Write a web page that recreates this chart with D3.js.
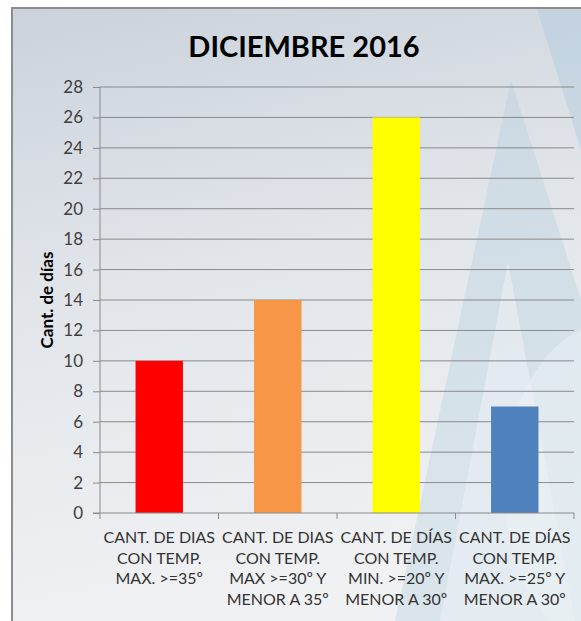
<!DOCTYPE html>
<html>
<head>
<meta charset="utf-8">
<script src="https://d3js.org/d3.v7.min.js"></script>
<style>
  body { margin: 0; background: #fff; }
  svg { display: block; font-family: Lato, "Open Sans", sans-serif; }
</style>
</head>
<body>
<svg id="chart" width="581" height="621"></svg>
<script>
// data
var categories = [
  ["CANT. DE DIAS", "CON TEMP.", "MAX. >=35º"],
  ["CANT. DE DIAS", "CON TEMP.", "MAX >=30º Y", "MENOR A 35º"],
  ["CANT. DE DÍAS", "CON TEMP.", "MIN. >=20º Y", "MENOR A 30º"],
  ["CANT. DE DÍAS", "CON TEMP.", "MAX. >=25º Y", "MENOR A 30º"]
];
var values = [10, 14, 26, 7];
var barColors = ["#ff0000", "#f79646", "#ffff00", "#4f81bd"];
var yTicks = d3.range(0, 29, 2);
var title = "DICIEMBRE 2016";
var yTitle = "Cant. de días";

var svg = d3.select("#chart");
var W = 581, H = 621;

// STEP 1: background frame + gradient
var defs = svg.append("defs");
var grad = defs.append("linearGradient")
    .attr("id", "bg").attr("x1", 0).attr("y1", 0).attr("x2", 0.2).attr("y2", 1);
grad.append("stop").attr("offset", "0%").attr("stop-color", "#cbd2db");
grad.append("stop").attr("offset", "45%").attr("stop-color", "#e1e5ea");
grad.append("stop").attr("offset", "100%").attr("stop-color", "#f0f1f3");

svg.append("rect")
    .attr("x", 12).attr("y", 8).attr("width", W).attr("height", H)
    .attr("fill", "url(#bg)")
    .attr("stroke", "#8c8c8c").attr("stroke-width", 2);

// watermark (light blue "A" / drop shape)
var wm = svg.append("g").attr("class", "watermark");
wm.append("path")
    .attr("d", "M511,80 L395,621 L581,621 L581,300 Z")
    .attr("fill", "#a9c9dc").attr("opacity", 0.3);
wm.append("path")
    .attr("d", "M537,9 L581,9 L581,150 Z")
    .attr("fill", "#a9c9dc").attr("opacity", 0.4);
wm.append("path")
    .attr("d", "M508,262 L440,621 L575,621 Z")
    .attr("fill", "#e8eef3").attr("opacity", 0.7);
wm.append("path")
    .attr("d", "M581,330 C535,350 500,420 505,500 C508,560 530,600 550,621 L581,621 Z")
    .attr("fill", "#eef3f7").attr("opacity", 0.45);

// STEP 2: scales
var margin = {left: 100, right: 7, top: 87, bottom: 108};
var x = d3.scaleBand()
    .domain(d3.range(values.length))
    .range([margin.left, W - margin.right])
    .padding(0);
var y = d3.scaleLinear()
    .domain([0, 28])
    .range([H - margin.bottom, margin.top]);

// gridlines
svg.append("g")
    .selectAll("line")
    .data(yTicks.filter(function(d) { return d > 0; }))
    .enter()
    .append("line")
        .attr("x1", margin.left).attr("x2", W - margin.right)
        .attr("y1", function(d) { return y(d); })
        .attr("y2", function(d) { return y(d); })
        .attr("stroke", "#8a8a8a").attr("stroke-width", 1);

// bars
var barW = x.bandwidth() * 0.4;
svg.append("g")
    .selectAll("rect")
    .data(values)
    .enter()
    .append("rect")
        .attr("x", function(d, i) { return x(i) + (x.bandwidth() - barW) / 2; })
        .attr("y", function(d) { return y(d); })
        .attr("width", barW)
        .attr("height", function(d) { return y(0) - y(d); })
        .attr("fill", function(d, i) { return barColors[i]; });

// y axis
var yAxis = svg.append("g")
    .attr("transform", "translate(" + margin.left + ",0)")
    .call(d3.axisLeft(y).tickValues(yTicks).tickSize(7).tickPadding(10));
yAxis.select(".domain").attr("stroke", "#8a8a8a").attr("d", "M0," + y(28) + "V" + y(0));
yAxis.selectAll(".tick line").attr("stroke", "#8a8a8a");
yAxis.selectAll("text")
    .attr("fill", "#404040")
    .style("font-size", "17px")
    .style("font-family", "Lato, sans-serif");

// x axis
var xAxis = svg.append("g")
    .attr("transform", "translate(0," + y(0) + ")");
xAxis.append("line")
    .attr("x1", margin.left - 7).attr("x2", W - margin.right)
    .attr("stroke", "#8a8a8a");
xAxis.selectAll("line.tk")
    .data(d3.range(values.length + 1))
    .enter()
    .append("line")
        .attr("class", "tk")
        .attr("x1", function(d) { return margin.left + d * x.step(); })
        .attr("x2", function(d) { return margin.left + d * x.step(); })
        .attr("y1", 0).attr("y2", 6)
        .attr("stroke", "#8a8a8a");

// category labels
var lab = svg.append("g")
    .selectAll("text")
    .data(categories)
    .enter()
    .append("text")
        .attr("x", function(d, i) { return x(i) + x.bandwidth() / 2; })
        .attr("y", y(0) + 30)
        .attr("text-anchor", "middle")
        .attr("fill", "#333")
        .style("font-size", "16px");
lab.selectAll("tspan")
    .data(function(d) { return d; })
    .enter()
    .append("tspan")
        .attr("x", function() { return d3.select(this.parentNode).attr("x"); })
        .attr("dy", function(d, i) { return i === 0 ? 0 : 20.5; })
        .text(function(d) { return d; });

// title
svg.append("text")
    .attr("x", 304).attr("y", 57)
    .attr("text-anchor", "middle")
    .attr("font-weight", "bold")
    .style("font-size", "29px")
    .attr("fill", "#000")
    .text(title);

// y axis title
svg.append("text")
    .attr("transform", "translate(53," + y(14) + ") rotate(-90)")
    .attr("text-anchor", "middle")
    .attr("font-weight", "bold")
    .style("font-size", "17px")
    .attr("fill", "#000")
    .text(yTitle);
</script>
</body>
</html>
